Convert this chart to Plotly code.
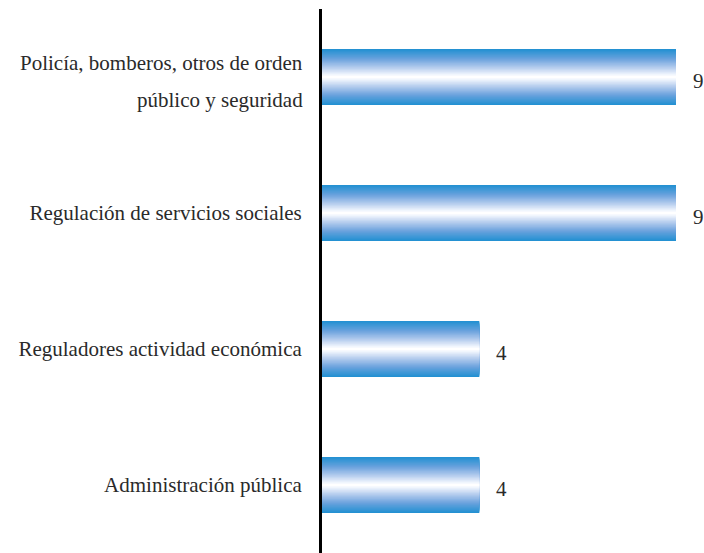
import plotly.graph_objects as go

categories = [
    "Policía, bomberos, otros de orden público y seguridad",
    "Regulación de servicios sociales",
    "Reguladores actividad económica",
    "Administración pública",
]
# the first label is shown on two lines
label_lines = {0: ["Policía, bomberos, otros de orden", "público y seguridad"]}
values = [9, 9, 4, 4]
value_labels = ["9", "9", "4", "4"]

FONT = "Liberation Serif, Times New Roman, serif"
FSIZE = 21
TXT = "#2a2a2a"
BAR_WIDTH = 0.41
N_LAYERS = 26
stops = [(0.0, (36, 145, 210)), (0.35, (108, 163, 221)), (0.65, (176, 201, 236)),
         (0.88, (230, 238, 251)), (1.0, (255, 255, 255))]


def grad(t):
    for (t0, c0), (t1, c1) in zip(stops[:-1], stops[1:]):
        if t <= t1:
            f = (t - t0) / (t1 - t0) if t1 > t0 else 0
            return "rgb(%d,%d,%d)" % tuple(round(a + (b - a) * f) for a, b in zip(c0, c1))
    return "rgb(255,255,255)"


fig = go.Figure()
for k in range(N_LAYERS):
    t = k / (N_LAYERS - 1)
    w = BAR_WIDTH * (1 - k / N_LAYERS)
    fig.add_trace(go.Bar(
        x=values, y=categories, orientation="h",
        width=[w] * len(values),
        marker=dict(color=grad(t), line=dict(width=0)),
        hoverinfo="skip", showlegend=False,
    ))

for v, c, lab in zip(values, categories, value_labels):
    fig.add_annotation(x=v, y=c, text=lab, showarrow=False, xanchor="left",
                       xshift=15, yshift=-4, font=dict(family=FONT, size=FSIZE, color=TXT))

ticktext = []
for i, c in enumerate(categories):
    if i in label_lines:
        ticktext.append("")
        l1, l2 = label_lines[i]
        for txt, ys in ((l1, 14), (l2, -23)):
            fig.add_annotation(x=0, xref="paper", y=c, yref="y", text=txt, showarrow=False,
                               xanchor="right", xshift=-17, yshift=ys,
                               font=dict(family=FONT, size=FSIZE, color=TXT))
    else:
        ticktext.append(c)

fig.update_layout(
    barmode="overlay",
    width=704, height=553,
    margin=dict(l=322, r=10, t=9, b=0),
    plot_bgcolor="white", paper_bgcolor="white",
    font=dict(family=FONT, size=FSIZE, color=TXT),
    xaxis=dict(range=[0, 9.458], visible=False, fixedrange=True),
    yaxis=dict(autorange="reversed", showline=True, linewidth=3, linecolor="black",
               showgrid=False, ticks="", ticklabelstandoff=13, zeroline=False,
               tickmode="array", tickvals=categories, ticktext=ticktext,
               tickfont=dict(family=FONT, size=FSIZE, color=TXT), automargin=False),
)

fig.write_html("out.html", config={"displayModeBar": False},
               post_script="document.body.style.margin='0';document.body.style.overflow='hidden';")
